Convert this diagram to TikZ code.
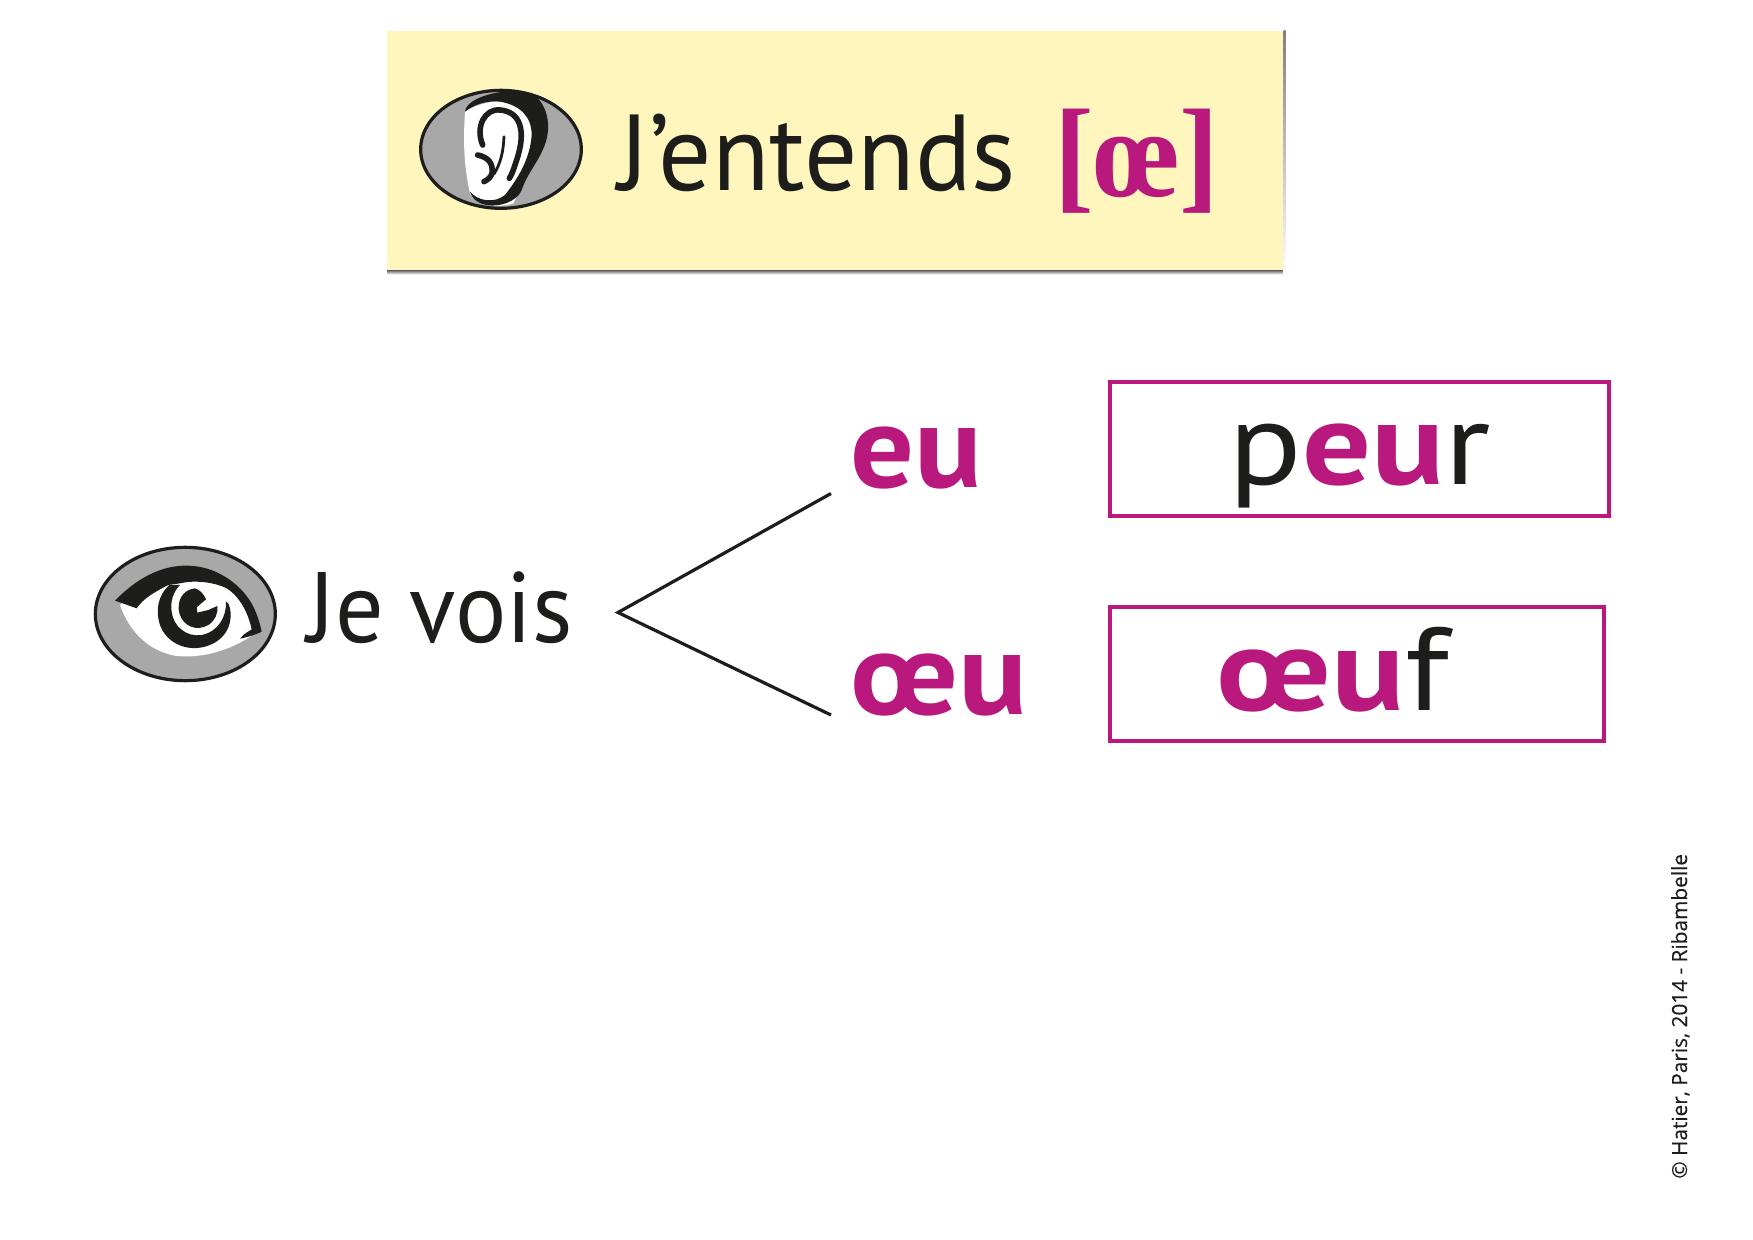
\documentclass[tikz,border=0pt]{standalone}
\usepackage{fontspec}
\setmainfont{PT Sans}
\newfontfamily\brfont{Liberation Serif}
\newfontfamily\creditfont[FakeBold=0.3]{Open Sans}
\definecolor{ink}{HTML}{1D1D1B}
\definecolor{plum}{HTML}{B9187C}
\definecolor{pale}{HTML}{FEF6BD}
\definecolor{shade}{HTML}{8F8F88}
\definecolor{disc}{HTML}{A8A8A8}
\newcommand{\fsz}[1]{\fontsize{#1pt}{#1pt}\selectfont}
\newcommand{\hl}[1]{\textcolor{plum}{\textbf{#1}}}
\tikzset{
  txt/.style={inner sep=0pt,anchor=base west,text=ink},
  wordbox/.style={draw=plum,line width=2pt,fill=white,inner sep=0pt,anchor=north west},
  branch/.style={draw=ink,line width=1.6pt,line cap=butt},
  zoomed/.style={x=0.16667pt,y=-0.16667pt},
}
\begin{document}
\begin{tikzpicture}[x=0.5pt,y=-0.5pt]
\useasboundingbox[fill=white] (0,0) rectangle (1753,1240);
% title band
\fill[pale] (387,31) rectangle (1285,274);
\fill[shade] (387,271) rectangle (1285,274.5);
\fill[shade] (1283.5,31) rectangle (1285.5,274.5);
\node[txt] (ent) at (618,191) {\fsz{54}\scalebox{0.974}[1]{J’entends}};
\node[txt,text=plum] (ipa) at (1053.7,197) {\fsz{63}\brfont\bfseries\scalebox{0.945}[1]{[œ]}};
% ear
\begin{scope}[shift={(410,80)},zoomed]
  \begin{scope}
    \clip (273,208) ellipse [x radius=241,y radius=177];
    \fill[disc] (273,208) ellipse [x radius=241,y radius=177];
    \fill[white] (165,95) .. controls (160,180) and (160,250) .. (180,340) .. controls (195,380) and (270,385) .. (310,370) .. controls (345,300) and (400,220) .. (400,130) .. controls (390,60) and (250,40) .. (165,95) -- cycle;
    \fill[ink] (165,95) .. controls (170,50) and (280,25) .. (350,35) .. controls (400,50) and (420,110) .. (413,160) .. controls (405,225) and (355,270) .. (335,330) .. controls (320,370) and (240,395) .. (195,360) .. controls (185,350) and (182,340) .. (180,335) .. controls (205,365) and (255,370) .. (285,345) .. controls (320,300) and (360,240) .. (365,165) .. controls (365,110) and (330,75) .. (270,65) .. controls (230,60) and (190,75) .. (165,95) -- cycle;
    \draw[ink,line width=2.8pt,line cap=round] (218,195) .. controls (195,140) and (225,85) .. (270,90) .. controls (330,95) and (350,150) .. (320,240) .. controls (312,265) and (305,285) .. (298,295);
    \draw[ink,line width=2.8pt,line cap=round] (203,225) .. controls (235,232) and (250,250) .. (246,280) .. controls (243,292) and (232,300) .. (222,305);
    \draw[ink,line width=1.4pt,line cap=round] (282,170) .. controls (280,215) and (272,250) .. (252,282);
  \end{scope}
  \draw[ink,line width=1.6pt] (273,208) ellipse [x radius=241,y radius=177];
\end{scope}
% eye
\begin{scope}[shift={(80,530)},zoomed]
  \fill[disc] (316,252) ellipse [x radius=270,y radius=200];
  \fill[white] (120,225) .. controls (200,150) and (340,130) .. (440,170) .. controls (490,200) and (530,260) .. (525,310) .. controls (450,365) and (360,385) .. (290,378) .. controls (210,365) and (150,310) .. (120,225) -- cycle;
  \fill[ink] (105,212) .. controls (180,135) and (260,100) .. (340,108) .. controls (420,115) and (490,170) .. (520,230) .. controls (532,255) and (540,280) .. (545,305) .. controls (525,315) and (500,322) .. (480,326) -- (492,313) -- (515,298) .. controls (505,250) and (480,200) .. (440,175) .. controls (400,155) and (340,150) .. (300,160) -- (265,165) .. controls (225,185) and (190,205) .. (170,235) -- cycle;
  \fill[ink] (268,165) .. controls (235,195) and (225,240) .. (240,285) .. controls (260,340) and (320,365) .. (375,350) .. controls (430,335) and (460,290) .. (450,235) .. controls (448,225) and (445,218) .. (438,214) .. controls (440,260) and (415,305) .. (365,315) .. controls (320,322) and (280,290) .. (275,245) .. controls (270,215) and (280,185) .. (300,165) -- cycle;
  \fill[ink] (345,175) .. controls (305,180) and (290,215) .. (298,250) .. controls (310,290) and (350,305) .. (385,285) .. controls (405,272) and (415,250) .. (412,228) -- (385,240) -- (352,248) -- (350,232) -- (378,208) .. controls (370,190) and (360,180) .. (345,175) -- cycle;
  \draw[ink,line width=1.6pt] (316,252) ellipse [x radius=270,y radius=200];
\end{scope}
\node[txt] (vois) at (307,643) {\fsz{50}\scalebox{0.96}[1]{Je vois}};
% branches
\coordinate (apex) at (618,612.5);
\coordinate (upper) at (831,493.5);
\coordinate (lower) at (831,715);
\draw[branch] (upper) -- (apex) -- (lower);
% labels
\node[txt] (eu) at (850,488) {\fsz{59}\scalebox{1.07}[1]{\hl{eu}}};
\node[txt] (oeu) at (850,715) {\fsz{59}\scalebox{1.09}[1]{\hl{œu}}};
% boxes
\node[wordbox,minimum width=249.75pt,minimum height=67.25pt] (b1) at (1107.5,380) {};
\node[wordbox,minimum width=247.25pt,minimum height=67pt] (b2) at (1107.5,605.5) {};
\node[txt] (peur) at (1228,485) {\fsz{59}\scalebox{1.156}[1]{p\hl{eu}r}};
\node[txt] (oeuf) at (1216,711) {\fsz{59}\scalebox{1.159}[1]{\hl{œu}f}};
% credit
\node[txt,rotate=90] (credit) at (1687,1179) {\fsz{10.4}\creditfont © Hatier, Paris, 2014 - Ribambelle};
\end{tikzpicture}
\end{document}
